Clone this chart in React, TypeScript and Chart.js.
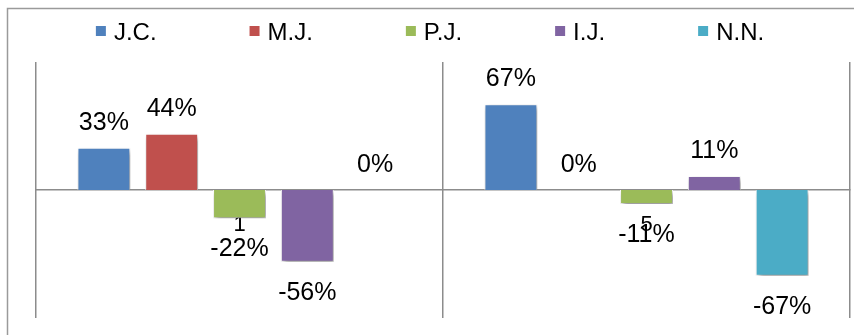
import React, { useEffect, useRef } from 'react';
import { Chart, registerables } from 'chart.js';

Chart.register(...registerables);

const categories = ['1', '5'];
const seriesNames = ['J.C.', 'M.J.', 'P.J.', 'I.J.', 'N.N.'];
const jcValues = [0.33, 0.67];
const mjValues = [0.44, 0];
const pjValues = [-0.22, -0.11];
const ijValues = [-0.56, 0.11];
const nnValues = [0, -0.67];
const seriesValues = [jcValues, mjValues, pjValues, ijValues, nnValues];
const seriesColors = ['#4F81BD', '#C0504D', '#9BBB59', '#8064A2', '#4BACC6'];
const yMin = -1;
const yMax = 1;

const FONT = '"Liberation Sans", Arial, sans-serif';
const LINE = '#8c8c8c';

const framePlugin = {
  id: 'frame',
  beforeDraw(chart: any) {
    const ctx = chart.ctx;
    ctx.save();
    ctx.fillStyle = '#ffffff';
    ctx.fillRect(0, 0, chart.width, chart.height);
    ctx.strokeStyle = '#9a9a9a';
    ctx.lineWidth = 1.5;
    ctx.strokeRect(7.5, 8.5, chart.width + 20, chart.height + 20);
    ctx.restore();
  },
};

const shadowPlugin = {
  id: 'barShadow',
  beforeDatasetsDraw(chart: any) {
    const ctx = chart.ctx;
    ctx.save();
    ctx.shadowColor = 'rgba(0,0,0,0.45)';
    ctx.shadowBlur = 5;
    ctx.shadowOffsetX = 2;
    ctx.shadowOffsetY = 3;
  },
  afterDatasetsDraw(chart: any) {
    chart.ctx.restore();
  },
};

const valueLabelPlugin = {
  id: 'valueLabels',
  afterDatasetsDraw(chart: any) {
    const ctx = chart.ctx;
    ctx.save();
    ctx.font = `25px ${FONT}`;
    ctx.fillStyle = '#000';
    ctx.textAlign = 'center';
    ctx.textBaseline = 'alphabetic';
    chart.data.datasets.forEach((ds: any, di: number) => {
      const meta = chart.getDatasetMeta(di);
      meta.data.forEach((bar: any, i: number) => {
        const v = ds.data[i];
        const txt = Math.round(v * 100) + '%';
        const top = Math.min(bar.y, bar.base);
        const bottom = Math.max(bar.y, bar.base);
        if (v >= 0) {
          ctx.fillText(txt, bar.x, top - 18);
        } else {
          ctx.fillText(txt, bar.x, bottom + 38);
        }
      });
    });
    ctx.restore();
  },
};

const legendPlugin = {
  id: 'customLegend',
  afterDraw(chart: any) {
    const ctx = chart.ctx;
    ctx.save();
    ctx.font = `24px ${FONT}`;
    ctx.textBaseline = 'alphabetic';
    ctx.textAlign = 'left';
    const box = 10;
    const boxGap = 8;
    const itemGap = 93;
    const widths = seriesNames.map((n) => box + boxGap + ctx.measureText(n).width);
    const total = widths.reduce((a, b) => a + b, 0) + itemGap * (seriesNames.length - 1);
    let x = 430 - total / 2;
    seriesNames.forEach((n, i) => {
      ctx.fillStyle = seriesColors[i];
      ctx.fillRect(x, 26, box, box);
      ctx.fillStyle = '#000';
      ctx.fillText(n, x + box + boxGap, 40);
      x += widths[i] + itemGap;
    });
    ctx.restore();
  },
};

export default function App() {
  const ref = useRef<HTMLCanvasElement | null>(null);

  useEffect(() => {
    if (!ref.current) return;
    const chart = new Chart(ref.current, {
      type: 'bar',
      data: {
        labels: categories,
        datasets: seriesNames.map((name, i) => ({
          label: name,
          data: seriesValues[i],
          backgroundColor: seriesColors[i],
          borderColor: '#ffffff',
          borderWidth: 1,
          categoryPercentage: 0.833,
          barPercentage: 0.78,
        })),
      },
      options: {
        responsive: false,
        animation: false,
        devicePixelRatio: 1,
        layout: { padding: { left: 36, right: 4, top: 62, bottom: 17 } },
        plugins: {
          legend: { display: false },
          tooltip: { enabled: false },
        },
        scales: {
          x: {
            type: 'category',
            position: { y: 0 } as any,
            offset: true,
            z: 1,
            grid: { offset: true, color: LINE, lineWidth: 1.5, drawTicks: false },
            border: { display: true, color: LINE, width: 1.5 },
            ticks: { color: '#000', font: { family: FONT, size: 22 }, padding: 22 },
          },
          y: { display: false, min: yMin, max: yMax },
        },
      },
      plugins: [framePlugin, shadowPlugin, valueLabelPlugin, legendPlugin],
    });
    return () => chart.destroy();
  }, []);

  return (
    <div style={{ position: 'fixed', left: 0, top: 0, width: 854, height: 335 }}>
      <canvas ref={ref} width={854} height={335} style={{ display: 'block' }} />
    </div>
  );
}
